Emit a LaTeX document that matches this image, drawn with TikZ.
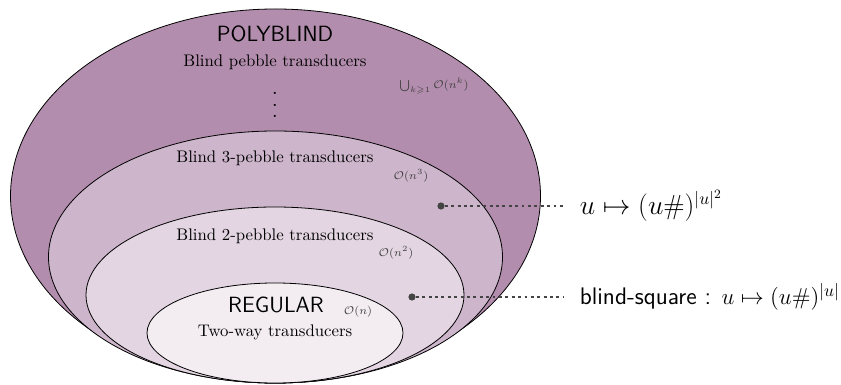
\documentclass[tikz,border=0pt]{standalone}
\usepackage{amsmath,amssymb}
\usepackage{xcolor}
\usetikzlibrary{positioning,calc}
\definecolor{polyfill}{HTML}{B38DAD}
\definecolor{threefill}{HTML}{CDB5CB}
\definecolor{twofill}{HTML}{E3D6E2}
\definecolor{regfill}{HTML}{F3EDF2}
\definecolor{dotgray}{HTML}{444444}
\newcommand{\tallvdots}{\vbox{\baselineskip7pt\lineskiplimit0pt\hbox{.}\hbox{.}\hbox{.}}}
\tikzset{
  layer/.style={draw=black, line width=0.5pt},
  classname/.style={font=\sffamily\fontsize{13.8}{16}\selectfont, inner sep=1pt},
  machine/.style={font=\fontsize{10.5}{12}\selectfont, inner sep=1pt},
  bound/.style={font=\scriptsize, text=black!75, inner sep=1pt},
  example/.style={dotgray, line width=1.8pt, dash pattern=on 1.8pt off 2.2pt, shorten >=9pt},
  witness/.style={circle, fill=dotgray, inner sep=0pt, minimum size=4.5pt},
  fn/.style={font=\fontsize{16}{19}\selectfont, anchor=west, inner sep=1pt}
}

\begin{document}
\begin{tikzpicture}[x=0.022cm, y=-0.022cm]
    \useasboundingbox (0,0) rectangle (841,385);
    % nested classes
    \filldraw[layer, fill=polyfill] (275.5,196) ellipse [x radius=265, y radius=187];
    \filldraw[layer, fill=threefill] (275.5,257) ellipse [x radius=227, y radius=126];
    \filldraw[layer, fill=twofill] (275,295) ellipse [x radius=189, y radius=88];
    \filldraw[layer, fill=regfill] (275,333) ellipse [x radius=128, y radius=50];
    % labels
    \node[classname] (poly) at (275,34) {POLYBLIND};
    \node[machine] (pebk) at (275,62) {Blind pebble transducers};
    \node[inner sep=0pt, font=\fontsize{14}{16}\selectfont] (vdots) at (275,105) {\tallvdots};
    \node[bound] (bk) at (434,86) {$\bigcup_{k\geqslant 1}\mathcal{O}(n^k)$};
    \node[machine] (peb3) at (275,158) {Blind 3-pebble transducers};
    \node[bound] (b3) at (411,176) {$\mathcal{O}(n^3)$};
    \node[machine] (peb2) at (275,236) {Blind 2-pebble transducers};
    \node[bound] (b2) at (396,253) {$\mathcal{O}(n^2)$};
    \node[classname] (reg) at (276,305) {REGULAR};
    \node[bound] (b1) at (358,312) {$\mathcal{O}(n)$};
    \node[machine] (twoway) at (275,332) {Two-way transducers};
    % example functions
    \node[witness] (w3) at (441,206) {};
    \node[fn] (f3) at (578,206) {$u\mapsto(u\#)^{|u|^2}$};
    \node[witness] (w2) at (412,297) {};
    \node[fn, font=\fontsize{15}{18}\selectfont] (f2) at (578,297) {\sffamily blind-square : $u\mapsto(u\#)^{|u|}$};
    \draw[example] (w3) -- (f3);
    \draw[example] (w2) -- (f2);
  \end{tikzpicture}
\end{document}
